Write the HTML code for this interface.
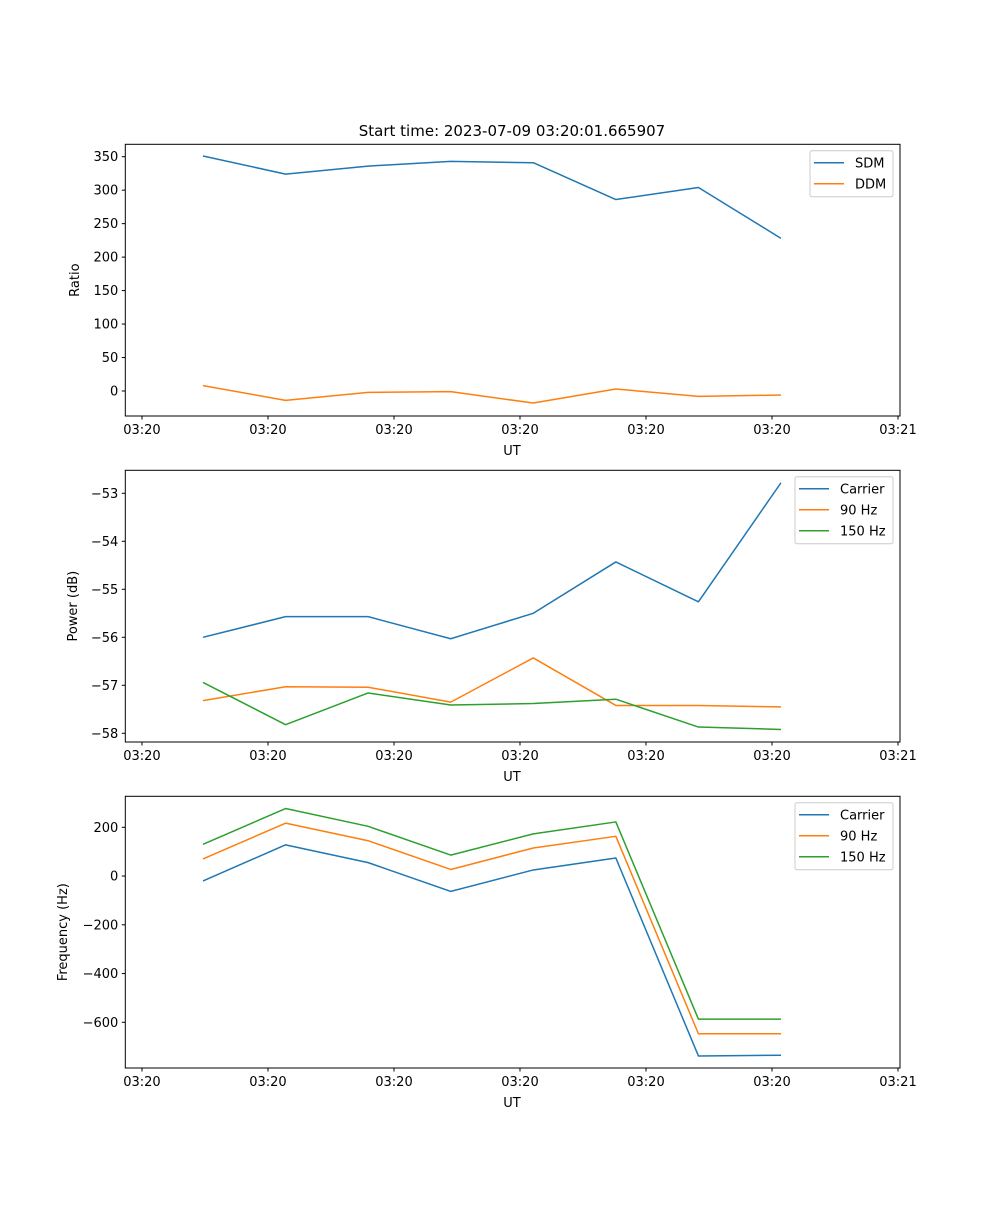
<!DOCTYPE html>
<html><head><meta charset="utf-8"><style>
body{margin:0;background:#fff;font-family:"Liberation Sans","DejaVu Sans",sans-serif}
svg text{font-family:"DejaVu Sans","Liberation Sans",sans-serif;font-size:13px;fill:#000}
</style></head><body>
<svg id="fig" width="1000" height="1200" xmlns="http://www.w3.org/2000/svg">
<text x="512" y="136" text-anchor="middle" style="font-size:15px">Start time: 2023-07-09 03:20:01.665907</text>
</svg>
<script>
// shared x data (sample index)
const samples = [0,1,2,3,4,5,6,7];
const xTickPos = [-0.739,0.787,2.313,3.839,5.365,6.891,8.417];
const xTickLabels = ["03:20","03:20","03:20","03:20","03:20","03:20","03:21"];
// panel 1
const p1Ticks = [0,50,100,150,200,250,300,350];
const sdm = [351,324,336,343,341,286,304,228];
const ddm = [8,-14,-2,-1,-18,3,-8,-6];
// panel 2
const p2Ticks = [-58,-57,-56,-55,-54,-53];
const pwrCarrier = [-56.0,-55.57,-55.57,-56.03,-55.5,-54.43,-55.26,-52.78];
const pwr90 = [-57.32,-57.03,-57.04,-57.35,-56.43,-57.42,-57.42,-57.45];
const pwr150 = [-56.94,-57.82,-57.16,-57.41,-57.38,-57.29,-57.87,-57.92];
// panel 3
const p3Ticks = [-600,-400,-200,0,200];
const frqCarrier = [-20,128,55,-63,25,74,-738,-735];
const frq90 = [70,217,145,27,115,163,-647,-647];
const frq150 = [130,277,204,86,173,222,-587,-587];

const NS="http://www.w3.org/2000/svg";
const svg=document.getElementById('fig');
function mk(tag,attrs,parent){const e=document.createElementNS(NS,tag);for(const k in attrs)e.setAttribute(k,attrs[k]);(parent||svg).appendChild(e);return e;}
const L=125.3,R=900;
const xs=t=>203+t*82.57;
const C=['#1f77b4','#ff7f0e','#2ca02c'];

function panel(name,top,bottom,yv,yref,ticks,fmt,ylabel,ylabX,series,names,legend){
  const g=mk('g',{});
  
  
  const ys=v=>yref[1]+(v-yref[0])*(yref[3]-yref[1])/(yref[2]-yref[0]);
  series.forEach((s,i)=>{
    const p=mk('polyline',{points:samples.map((t,j)=>xs(t)+','+ys(s[j])).join(' '),fill:'none',stroke:C[i],'stroke-width':1.5,'stroke-linejoin':'round'},g);
    
    
  });
  const fr=mk('rect',{x:L,y:top,width:R-L,height:bottom-top,fill:'none',stroke:'#000','stroke-width':1},g);
  
  
  ticks.forEach(v=>{const y=ys(v);
    mk('line',{x1:L-3.5,x2:L,y1:y,y2:y,stroke:'#000'},g);
    const t=mk('text',{x:L-7,y:y+4.5,'text-anchor':'end'},g);t.textContent=fmt(v);
    
    
  });
  xTickPos.forEach((p,i)=>{const x=xs(p);
    mk('line',{x1:x,x2:x,y1:bottom,y2:bottom+3.5,stroke:'#000'},g);
    const t=mk('text',{x:x,y:bottom+18,'text-anchor':'middle'},g);t.textContent=xTickLabels[i];
    
    
  });
  const xl=mk('text',{x:512,y:bottom+39,'text-anchor':'middle'},g);xl.textContent='UT';
  
  
  const cy=(top+bottom)/2;
  const yl=mk('text',{x:ylabX,y:cy,'text-anchor':'middle',transform:`rotate(-90 ${ylabX} ${cy})`},g);yl.textContent=ylabel;
  
  
  const lg=mk('g',{},g);
  
  
  mk('rect',{x:legend[0],y:top+6.5,width:legend[1],height:names.length*21+4,rx:2,fill:'#fff','fill-opacity':0.8,stroke:'#ccc'},lg);
  names.forEach((n,i)=>{const y=top+18.5+i*21;
    const e=mk('g',{},lg);
    
    
    mk('line',{x1:legend[0]+4,x2:legend[0]+34,y1:y,y2:y,stroke:C[i],'stroke-width':1.5},e);
    const t=mk('text',{x:legend[0]+45,y:y+4.5},e);t.textContent=n;
  });
}
const neg=v=>String(v).replace('-','\u2212');
panel('ratio-panel',144.3,416,0,[0,391,350,156.7],p1Ticks,neg,'Ratio',79,[sdm,ddm],['SDM','DDM'],[810,83]);
panel('power-panel',470.3,742,0,[-53,493.3,-58,733.3],p2Ticks,neg,'Power (dB)',77,[pwrCarrier,pwr90,pwr150],['Carrier','90 Hz','150 Hz'],[795,98]);
panel('frequency-panel',796.3,1068,0,[200,827.3,-600,1022.3],p3Ticks,neg,'Frequency (Hz)',67,[frqCarrier,frq90,frq150],['Carrier','90 Hz','150 Hz'],[795,98]);
</script>
</body></html>
